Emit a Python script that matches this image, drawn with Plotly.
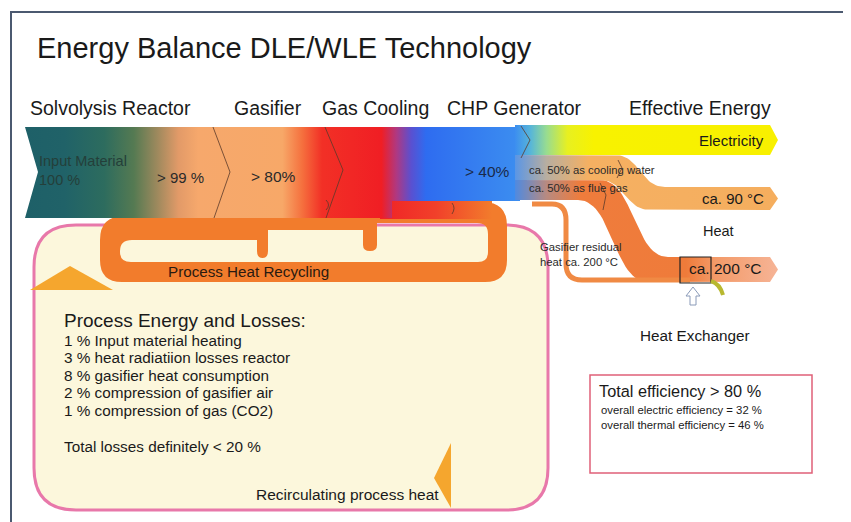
import numpy as np
import plotly.graph_objects as go

# ---------------- data ----------------
title = "Energy Balance DLE/WLE Technology"
stage_names = ["Solvolysis Reactor", "Gasifier", "Gas Cooling", "CHP Generator", "Effective Energy"]
stage_shares = ["Input Material<br>100 %", "> 99 %", "> 80%", "> 40%"]
chp_split = ["ca. 50% as cooling water", "ca. 50% as flue gas"]
output_labels = ["Electricity", "ca. 90 °C", "Heat", "ca. 200 °C"]
residual_label = "Gasifier residual<br>heat ca. 200 °C"
recycle_labels = ["Process Heat Recycling", "Recirculating process heat"]
loss_pct = [1, 3, 8, 2, 1]
loss_desc = ["Input material heating", "heat radiatiion losses reactor",
             "gasifier heat consumption", "compression of gasifier air",
             "compression of gas (CO2)"]
total_loss_limit = 20
eff_total = 80
eff_electric = 32
eff_thermal = 46
exchanger_label = "Heat Exchanger"

FONT = "Liberation Sans, Arial, sans-serif"
W, H = 851, 522
OFF = 8  # page body margin
FW, FH = W - OFF, H - OFF


def bez(p0, p1, p2, p3, n=30):
    t = np.linspace(0, 1, n)[:, None]
    P = ((1 - t) ** 3) * np.array(p0) + 3 * ((1 - t) ** 2) * t * np.array(p1) \
        + 3 * (1 - t) * t * t * np.array(p2) + (t ** 3) * np.array(p3)
    return P[:, 0].tolist(), P[:, 1].tolist()


def s_edge(x0, y0, xa, xb, y1, x1):
    xm = (xa + xb) / 2
    bx, by = bez((xa, y0), (xm, y0), (xm, y1), (xb, y1))
    return [x0] + bx + [x1], [y0] + by + [y1]


def band(top, bot, tip_x):
    tx, ty = top
    bx, by = bot
    xs = tx + [tip_x] + bx[::-1] + [tx[0]]
    ys = ty + [(ty[-1] + by[-1]) / 2] + by[::-1] + [ty[0]]
    return xs, ys


fig = go.Figure()

FRAME = "#4b5970"
shapes = []
shapes.append(dict(type="line", x0=10, y0=12, x1=848, y1=12, line=dict(color=FRAME, width=1.8), layer="below"))
shapes.append(dict(type="line", x0=11, y0=12, x1=11, y1=522, line=dict(color=FRAME, width=2), layer="below"))
shapes.append(dict(type="line", x0=848, y0=12, x1=848, y1=522, line=dict(color=FRAME, width=1.8), layer="below"))
r = 42
x0, x1, y0, y1 = 34, 548, 225, 510
pink = (f"M {x0+r} {y0} L {x1-r} {y0} Q {x1} {y0} {x1} {y0+r} L {x1} {y1-r} Q {x1} {y1} {x1-r} {y1} "
        f"L {x0+r} {y1} Q {x0} {y1} {x0} {y1-r} L {x0} {y0+r} Q {x0} {y0} {x0+r} {y0} Z")
shapes.append(dict(type="path", path=pink, line=dict(color="#e878aa", width=3),
                   fillcolor="#fcf7dc", layer="below"))
ORG = "#f27c2c"
loop_outer = ("M 124 216 Q 100 216 100 240 L 100 260 Q 100 282 122 282 L 485 282 Q 507 282 507 260 "
              "L 507 226 Q 507 202 483 202 L 420 202 L 420 216 Z")
loop_inner = ("M 132 240 L 257 240 L 257 251 Q 257 258 262.5 258 Q 268 258 268 251 L 268 230 "
              "L 363 230 L 363 245 Q 363 251 370 251 Q 377 251 377 245 L 377 223 "
              "L 477 223 Q 488 223 488 234 L 488 252 Q 488 262 478 262 L 131 262 Q 120 262 120 252 "
              "L 120 251 Q 120 240 132 240 Z")
shapes.append(dict(type="path", path=loop_outer + " " + loop_inner, fillcolor=ORG,
                   line=dict(width=0), layer="below"))
shapes.append(dict(type="path", path="M 30 290 L 70 266 L 113 290 Z", fillcolor="#f5a62e",
                   line=dict(width=0), layer="below"))
shapes.append(dict(type="path", path="M 451 443 L 451 508 L 434 478 Z", fillcolor="#f5a62e",
                   line=dict(width=0), layer="below"))

# red strip turning into the recycling loop
fig.add_trace(go.Scatter(x=[380, 492, 492, 380, 380], y=[199, 199, 219, 219, 199], mode="lines",
                         fill="toself", line=dict(width=0),
                         fillgradient=dict(type="horizontal", start=380, stop=492,
                                           colorscale=[[0, "#f02226"], [0.5, "#f1402a"], [1, ORG]]),
                         hoverinfo="skip", showlegend=False))
# main band
mx = [25, 520, 520, 392, 392, 25, 38, 25]
my = [127, 127, 201, 201, 218, 218, 172, 127]
main_scale = [[0.00, "#1e6068"], [0.08, "#206268"], [0.16, "#2d6c5e"], [0.22, "#557a52"],
              [0.27, "#a28a5e"], [0.31, "#e29a68"], [0.35, "#f6a86c"], [0.52, "#f7a868"],
              [0.56, "#f5703e"], [0.60, "#f23026"], [0.72, "#f01e24"], [0.75, "#b03880"],
              [0.78, "#5a50d0"], [0.81, "#2e6cf0"], [1.00, "#3c8ef0"]]
fig.add_trace(go.Scatter(x=mx, y=my, mode="lines", fill="toself", line=dict(width=0),
                         fillgradient=dict(type="horizontal", colorscale=main_scale, start=25, stop=520),
                         hoverinfo="skip", showlegend=False))

top = s_edge(515, 180, 600, 668, 257, 770)
bot = s_edge(515, 200, 578, 648, 282, 770)
fx, fy = band(top, bot, 778)
fig.add_trace(go.Scatter(x=fx, y=fy, mode="lines", fill="toself", line=dict(width=0),
                         fillgradient=dict(type="horizontal", start=515, stop=778,
                                           colorscale=[[0, "#4f8ae0"], [0.12, "#b88a80"], [0.25, "#ef7c3c"],
                                                       [0.65, "#ef7b3a"], [0.76, "#f39a68"], [1, "#f6b496"]]),
                         hoverinfo="skip", showlegend=False))
top = s_edge(515, 155, 615, 665, 187, 770)
bot = s_edge(515, 180, 600, 650, 210, 770)
cx, cy = band(top, bot, 778)
fig.add_trace(go.Scatter(x=cx, y=cy, mode="lines", fill="toself", line=dict(width=0),
                         fillgradient=dict(type="horizontal", start=515, stop=778,
                                           colorscale=[[0, "#5a96e6"], [0.12, "#b8aea0"], [0.28, "#f5b062"],
                                                       [1, "#f5ae5e"]]),
                         hoverinfo="skip", showlegend=False))
ex = [515, 770, 778, 770, 515, 515]
ey = [125, 125, 140, 155, 155, 125]
fig.add_trace(go.Scatter(x=ex, y=ey, mode="lines", fill="toself", line=dict(width=0),
                         fillgradient=dict(type="horizontal", start=515, stop=778,
                                           colorscale=[[0, "#3c8ef0"], [0.06, "#58b6d8"], [0.12, "#98dc90"],
                                                       [0.2, "#e8f020"], [0.3, "#f8f200"], [1, "#f8f000"]]),
                         hoverinfo="skip", showlegend=False))

ov = []
ov.append(dict(type="path", path="M 532 204 L 552 204 Q 566 204 566 220 L 566 264 Q 566 280 582 280 L 690 280",
               line=dict(color="#f08a44", width=5)))
for p in ["M 213 127 L 230 172 L 214 218", "M 325 127 L 343 170 L 326 218",
          "M 521 126 L 530 140 L 521 158", "M 618 160 L 622 168 L 617 178",
          "M 600 183 L 606 195 L 603 210", "M 326 200 Q 331 205 326 210", "M 452 203 Q 456 208 452 214"]:
    ov.append(dict(type="path", path=p, line=dict(color="#5a3a2a", width=0.8)))
ov.append(dict(type="rect", x0=680, y0=257, x1=711, y1=283, line=dict(color="#222222", width=1.2)))
ov.append(dict(type="path", path="M 711 281 Q 720 284 723 295", line=dict(color="#b8b830", width=4)))
ov.append(dict(type="path", path="M 686 296 L 693 287 L 700 296 L 696 296 L 696 305 L 690 305 L 690 296 Z",
               fillcolor="white", line=dict(color="#8a9ab8", width=1)))
ov.append(dict(type="rect", x0=590, y0=375, x1=812, y1=473, line=dict(color="#e06078", width=1.5)))
fig.update_layout(shapes=shapes + ov)

ann = []


def txt(x, y, s, size, color="#1a1a1a"):
    ann.append(dict(x=x, y=y, text=s, showarrow=False, xanchor="left", yanchor="middle",
                    font=dict(family=FONT, size=size, color=color), align="left"))


txt(35, 48, title, 29)
for name, x in zip(stage_names, [28, 232, 320, 445, 627]):
    txt(x, 108, name, 19.5)
txt(37, 170, stage_shares[0], 14.5, "#243f3a")
txt(155, 177, stage_shares[1], 15, "#2a2a2a")
txt(249, 176, stage_shares[2], 15.5, "#2a2a2a")
txt(463, 171, stage_shares[3], 15.5, "#1a2a4a")
txt(527, 170, chp_split[0], 11.3, "#2a2a2a")
txt(527, 188, chp_split[1], 11.3, "#2a2a2a")
txt(697, 140, output_labels[0], 15)
txt(700, 198, output_labels[1], 15)
txt(701, 231, output_labels[2], 14.5)
txt(687, 268, output_labels[3], 15.5)
ann.append(dict(x=538, y=254, text=residual_label, showarrow=False, xanchor="left", yanchor="middle",
                font=dict(family=FONT, size=11.3, color="#2a2a2a"), align="left"))
txt(166, 271, recycle_labels[0], 15.2, "#2a1a10")
txt(254, 494, recycle_labels[1], 15.5)
txt(62, 320, "Process Energy and Losses:", 19)
for i, (p, d) in enumerate(zip(loss_pct, loss_desc)):
    txt(62, 340 + i * 17.6, f"{p} % {d}", 15.3)
txt(62, 446, f"Total losses definitely < {total_loss_limit} %", 15.3)
txt(638, 335, exchanger_label, 15.3)
txt(597, 391, f"Total efficiency > {eff_total} %", 16.3)
txt(599, 410, f"overall electric efficiency = {eff_electric} %", 11.3)
txt(599, 425, f"overall thermal efficiency = {eff_thermal} %", 11.3)

fig.update_layout(
    annotations=ann,
    width=FW, height=FH,
    margin=dict(l=0, r=0, t=0, b=0),
    paper_bgcolor="white", plot_bgcolor="white",
    xaxis=dict(range=[OFF, W], visible=False, fixedrange=True),
    yaxis=dict(range=[H, OFF], visible=False, fixedrange=True),
    showlegend=False,
)
fig.write_html("out.html")
